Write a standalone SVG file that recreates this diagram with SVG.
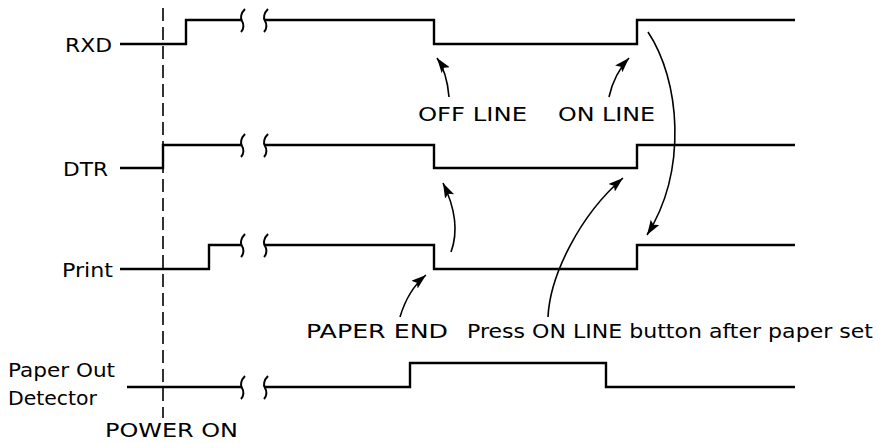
<svg xmlns="http://www.w3.org/2000/svg" width="882" height="443" viewBox="0 0 882 443">
<style>
  .sig { fill: none; stroke: #000; stroke-width: 2.4; stroke-linejoin: miter; }
  .arr { fill: none; stroke: #000; stroke-width: 1.6; marker-end: url(#ah); }
  .lbl { font-family: "DejaVu Sans", "Liberation Sans", Arial, sans-serif; font-size: 20px; fill: #000; }
  .dash { fill: none; stroke: #000; stroke-width: 1.6; stroke-dasharray: 13 6; }
</style>
<defs>
  <marker id="ah" markerUnits="userSpaceOnUse" markerWidth="18" markerHeight="12" refX="15" refY="5" orient="auto">
    <path d="M0,0 L15,5 L0,10 L3,5 z" fill="#000"/>
  </marker>
  <path id="sq" d="M3,-11 C-1,-7 -2,-2 0,1 C2,4 2,9 -1,12" fill="none" stroke="#000" stroke-width="2"/>
</defs>
<rect width="882" height="443" fill="#fff"/>

<g id="power-on">
  <line class="dash" x1="163" y1="8" x2="163" y2="418"/>
  <text class="lbl" x="105" y="437" textLength="133" lengthAdjust="spacingAndGlyphs">POWER ON</text>
</g>

<g id="rxd">
  <text class="lbl" x="65" y="52" textLength="47" lengthAdjust="spacingAndGlyphs">RXD</text>
  <path class="sig" d="M120,44 H186 V20 H242"/>
  <path class="sig" d="M265,20 H434 V44 H637 V20 H795"/>
  <use href="#sq" x="242" y="20"/>
  <use href="#sq" x="265" y="20"/>
</g>

<g id="dtr">
  <text class="lbl" x="63" y="176" textLength="45" lengthAdjust="spacingAndGlyphs">DTR</text>
  <path class="sig" d="M120,168 H163 V145 H242"/>
  <path class="sig" d="M265,145 H434 V168 H637 V145 H795"/>
  <use href="#sq" x="242" y="145"/>
  <use href="#sq" x="265" y="145"/>
</g>

<g id="print">
  <text class="lbl" x="62" y="277" textLength="51" lengthAdjust="spacingAndGlyphs">Print</text>
  <path class="sig" d="M120,269 H209 V245 H242"/>
  <path class="sig" d="M265,245 H434 V269 H637 V245 H795"/>
  <use href="#sq" x="242" y="245"/>
  <use href="#sq" x="265" y="245"/>
</g>

<g id="paper-out-detector">
  <text class="lbl" x="8" y="377" textLength="107" lengthAdjust="spacingAndGlyphs">Paper Out</text>
  <text class="lbl" x="8" y="405" textLength="89" lengthAdjust="spacingAndGlyphs">Detector</text>
  <path class="sig" d="M127,387 H242"/>
  <path class="sig" d="M265,387 H410 V363 H606 V387 H795"/>
  <use href="#sq" x="242" y="387"/>
  <use href="#sq" x="265" y="387"/>
</g>

<g id="labels">
  <text class="lbl" x="418" y="121" textLength="109" lengthAdjust="spacingAndGlyphs">OFF LINE</text>
  <text class="lbl" x="558" y="121" textLength="97" lengthAdjust="spacingAndGlyphs">ON LINE</text>
  <text class="lbl" x="306" y="338" textLength="142" lengthAdjust="spacingAndGlyphs">PAPER END</text>
  <text class="lbl" x="467" y="338" textLength="406" lengthAdjust="spacingAndGlyphs">Press ON LINE button after paper set</text>
</g>

<g id="connectors">
  <path class="arr" d="M449,97 Q447,72 437,58"/>
  <path class="arr" d="M609,97 Q614,74 629,58"/>
  <path class="arr" d="M648,32 C680,80 688,170 647,235"/>
  <path class="arr" d="M451,252 Q462,222 443,183"/>
  <path class="arr" d="M548,317 C550,275 580,215 623,178"/>
  <path class="arr" d="M400,317 Q408,290 426,275"/>
</g>
</svg>
